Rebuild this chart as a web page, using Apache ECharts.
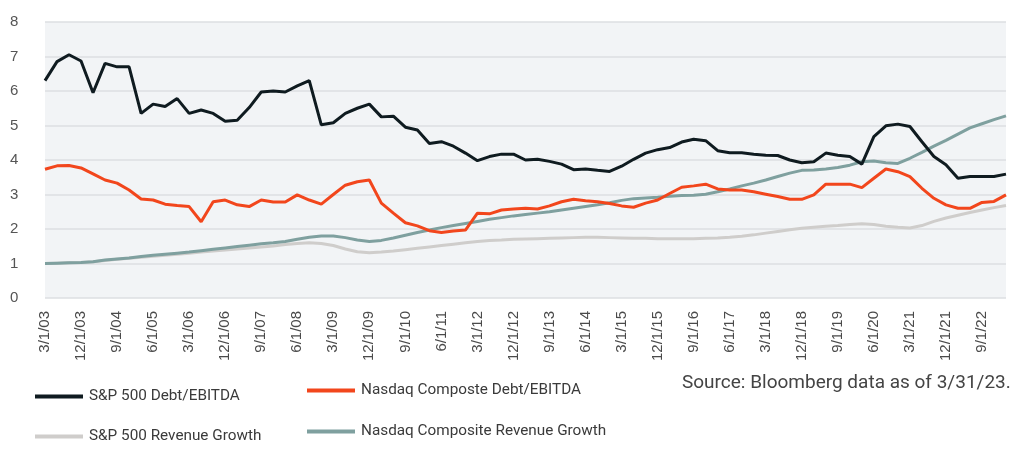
<!DOCTYPE html>
<html><head><meta charset="utf-8">
<script src="https://cdn.jsdelivr.net/npm/echarts@6/dist/echarts.min.js"></script>
<style>html,body{margin:0;padding:0;background:#fff}#c{width:1024px;height:469px}</style>
</head><body><div id="c"></div>
<script>
const categories = [
"3/1/03","6/1/03","9/1/03","12/1/03","3/1/04","6/1/04","9/1/04","12/1/04",
"3/1/05","6/1/05","9/1/05","12/1/05","3/1/06","6/1/06","9/1/06","12/1/06",
"3/1/07","6/1/07","9/1/07","12/1/07","3/1/08","6/1/08","9/1/08","12/1/08",
"3/1/09","6/1/09","9/1/09","12/1/09","3/1/10","6/1/10","9/1/10","12/1/10",
"3/1/11","6/1/11","9/1/11","12/1/11","3/1/12","6/1/12","9/1/12","12/1/12",
"3/1/13","6/1/13","9/1/13","12/1/13","3/1/14","6/1/14","9/1/14","12/1/14",
"3/1/15","6/1/15","9/1/15","12/1/15","3/1/16","6/1/16","9/1/16","12/1/16",
"3/1/17","6/1/17","9/1/17","12/1/17","3/1/18","6/1/18","9/1/18","12/1/18",
"3/1/19","6/1/19","9/1/19","12/1/19","3/1/20","6/1/20","9/1/20","12/1/20",
"3/1/21","6/1/21","9/1/21","12/1/21","3/1/22","6/1/22","9/1/22","12/1/22",
"3/1/23"];

const spDebtEbitda = [
6.3,6.85,7.05,6.87,5.95,6.8,6.7,6.7,
5.35,5.62,5.55,5.78,5.35,5.45,5.35,5.12,
5.15,5.52,5.97,6.0,5.97,6.15,6.3,5.02,
5.08,5.35,5.5,5.62,5.25,5.27,4.95,4.87,
4.48,4.53,4.4,4.2,3.98,4.1,4.17,4.17,
4.0,4.02,3.96,3.88,3.72,3.74,3.7,3.67,
3.82,4.02,4.2,4.3,4.36,4.52,4.6,4.56,
4.27,4.21,4.21,4.17,4.14,4.13,4.0,3.92,
3.95,4.2,4.14,4.1,3.88,4.68,4.99,5.04,
4.97,4.53,4.1,3.86,3.47,3.52,3.52,3.52,
3.59];

const nasdaqDebtEbitda = [
3.73,3.83,3.84,3.77,3.6,3.42,3.33,3.13,
2.87,2.84,2.72,2.68,2.65,2.21,2.79,2.84,
2.7,2.65,2.84,2.78,2.78,2.99,2.84,2.72,
3.0,3.27,3.37,3.42,2.75,2.46,2.18,2.09,
1.95,1.9,1.94,1.97,2.46,2.44,2.55,2.58,
2.6,2.58,2.67,2.79,2.86,2.82,2.79,2.74,
2.67,2.63,2.75,2.84,3.03,3.21,3.25,3.3,
3.16,3.13,3.13,3.08,3.01,2.94,2.86,2.86,
2.99,3.3,3.3,3.3,3.2,3.47,3.74,3.66,
3.52,3.18,2.89,2.7,2.6,2.6,2.77,2.8,
2.99];

const spRevenueGrowth = [
1.0,1.01,1.02,1.03,1.05,1.09,1.12,1.15,
1.18,1.21,1.24,1.27,1.3,1.33,1.36,1.39,
1.42,1.45,1.48,1.51,1.55,1.58,1.6,1.58,
1.52,1.42,1.34,1.31,1.33,1.36,1.4,1.44,
1.48,1.52,1.56,1.6,1.64,1.67,1.68,1.7,
1.71,1.72,1.73,1.74,1.75,1.76,1.76,1.75,
1.74,1.73,1.73,1.72,1.72,1.72,1.72,1.73,
1.74,1.76,1.79,1.83,1.88,1.93,1.98,2.02,
2.05,2.08,2.1,2.13,2.15,2.13,2.08,2.05,
2.03,2.1,2.22,2.32,2.4,2.48,2.55,2.62,
2.68];

const nasdaqRevenueGrowth = [
1.0,1.01,1.02,1.03,1.05,1.1,1.13,1.16,
1.2,1.24,1.27,1.3,1.33,1.37,1.41,1.45,
1.49,1.53,1.57,1.6,1.64,1.7,1.76,1.8,
1.8,1.75,1.68,1.64,1.67,1.74,1.82,1.9,
1.97,2.04,2.1,2.16,2.22,2.28,2.33,2.38,
2.42,2.46,2.5,2.55,2.6,2.65,2.7,2.76,
2.83,2.88,2.9,2.92,2.95,2.97,2.98,3.01,
3.08,3.16,3.25,3.33,3.42,3.52,3.62,3.7,
3.71,3.74,3.78,3.85,3.95,3.97,3.92,3.9,
4.05,4.22,4.4,4.57,4.75,4.93,5.05,5.17,
5.28];

const yTicks = [0,1,2,3,4,5,6,7,8];

const names = ["S&P 500 Debt/EBITDA","Nasdaq Composte Debt/EBITDA","S&P 500 Revenue Growth","Nasdaq Composite Revenue Growth"];
const colors = ["#0f1b20","#f2461c","#cfcdcb","#7fa09f"];

const legendFont = 'Roboto, "Liberation Sans", sans-serif';
const chart = echarts.init(document.getElementById('c'), null, {renderer:'canvas'});

function legendAt(name, left, top){
  return {data:[name], left:left, top:top, icon:'rect', itemWidth:48, itemHeight:4,
    itemGap:0, padding:0, selectedMode:false,
    textStyle:{fontFamily:legendFont, fontSize:15.3, color:'#3a3a3a', padding:[3,0,0,1]}};
}

function line(name, data, color, z){
  return {name:name, type:'line', data:data, showSymbol:false, symbol:'none', z:z,
    lineStyle:{color:color, width:3}, itemStyle:{color:color}, emphasis:{disabled:true}};
}

chart.setOption({
  animation:false,
  grid:{left:45, right:18, top:22, bottom:171, show:true, backgroundColor:'#f2f4f6', borderWidth:0},
  xAxis:{type:'category', data:categories, boundaryGap:false,
    axisLine:{show:false}, axisTick:{show:false},
    axisLabel:{interval:2, rotate:90, margin:13, fontSize:15, color:'#4a4a4a', fontFamily:'"Liberation Sans", Arial, sans-serif'},
    splitLine:{show:false}},
  yAxis:{type:'value', min:yTicks[0], max:yTicks[yTicks.length-1], interval:1,
    axisLine:{show:false}, axisTick:{show:false},
    axisLabel:{fontSize:15, color:'#555', margin:35, align:'left', fontFamily:'"Liberation Sans", Arial, sans-serif'},
    splitLine:{lineStyle:{color:'#dcdfe2', width:1.5}}},
  legend:[
    legendAt(names[0], 35, 389),
    legendAt(names[1], 307, 383),
    legendAt(names[2], 35, 429),
    legendAt(names[3], 307, 424)
  ],
  graphic:[{type:'text', left:682, top:374, style:{text:'Source: Bloomberg data as of 3/31/23.',
    font:'19px '+legendFont, fill:'#444'}}],
  series:[
    line(names[2], spRevenueGrowth, colors[2], 2),
    line(names[3], nasdaqRevenueGrowth, colors[3], 3),
    line(names[1], nasdaqDebtEbitda, colors[1], 4),
    line(names[0], spDebtEbitda, colors[0], 5)
  ]
});
</script></body></html>
